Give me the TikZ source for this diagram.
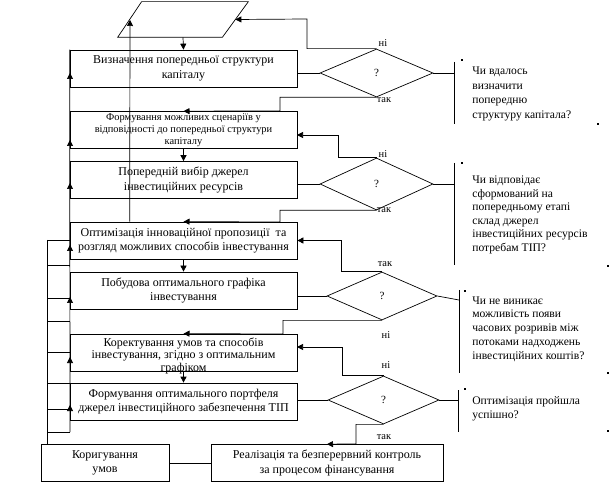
\documentclass[tikz,border=0pt]{standalone}
\usepackage{fontspec}
\setmainfont{Liberation Serif}
\usetikzlibrary{arrows.meta,shapes.geometric}
\begin{document}
\begin{tikzpicture}[x=1pt,y=-1pt,line width=0.7pt,
  box/.style={draw,minimum width=227pt,minimum height=37pt,inner sep=1pt,align=center,font=\fontsize{12}{14.5}\selectfont},
  boxtext/.style={align=center,font=\fontsize{12}{12.5}\selectfont,inner sep=0pt},
  dia/.style={draw,diamond,inner sep=0pt,font=\fontsize{11}{13}\selectfont},
  ann/.style={anchor=west,align=left,inner sep=0pt,font=\fontsize{11.6}{14.5}\selectfont},
  lbl/.style={inner sep=0pt,font=\fontsize{10.5}{12}\selectfont},
  arr/.style={-{Triangle[length=6pt,width=6pt]}},
  dot/.style={fill,inner sep=0pt,minimum size=1.2pt}]
\useasboundingbox (0,0) rectangle (613,494);
% start parallelogram
\node[minimum width=130pt,minimum height=35pt,inner sep=0pt] (par) at (183,19.5) {};
\draw (par.south west) -- ([xshift=-26pt]par.south east) -- (par.north east) -- ([xshift=24pt]par.north west) -- cycle;
\coordinate (parR) at ([xshift=-13pt]par.east);
% boxes
\node[box] (b1) at (183.5,68.5) {Визначення попередньої структури\\капіталу};
\node[box,font=\fontsize{10.4}{12}\selectfont] (b2) at (183.5,130) {Формування можливих сценаріїв у\\відповідності до попередньої структури\\капіталу};
\node[box] (b3) at (183.5,180) {Попередній вибір джерел\\інвестиційних ресурсів};
\node[box] (b4) at (183.5,240.5) {Оптимізація інноваційної пропозиції\ \ та\\розгляд можливих способів інвестування};
\node[box] (b5) at (183.5,290.5) {Побудова оптимального графіка\\інвестування};
\node[box,label={[boxtext,yshift=-3pt]center:{Коректування умов та способів\\інвестування, згідно з оптимальним\\графіком}}] (b6) at (183.5,352.5) {};
\node[box] (b7) at (183.5,401.5) {Формування оптимального портфеля\\джерел інвестиційного забезпечення ТІП};
\node[box,minimum width=128pt] (k) at (105,463) {Коригування\\умов};
\node[box,minimum width=232pt] (r) at (327,463) {Реалізація та безперервний контроль\\за процесом фінансування};
% decisions
\node[dia,minimum width=113pt,minimum height=48pt] (d1) at (376.5,73) {?};
\node[dia,minimum width=113pt,minimum height=52pt] (d2) at (376.5,184) {?};
\node[dia,minimum width=110pt,minimum height=48pt] (d3) at (382,296) {?};
\node[dia,minimum width=111pt,minimum height=48pt] (d4) at (383.5,400) {?};
% annotation brackets
\coordinate (a1t) at (454,62);  \coordinate (a1b) at (454,124);
\coordinate (a2t) at (454,163); \coordinate (a2b) at (454,265);
\coordinate (a3t) at (459,290); \coordinate (a3b) at (459,373);
\coordinate (a4t) at (458,390); \coordinate (a4b) at (458,432);
\draw (a1t) -- (a1b); \draw (a2t) -- (a2b); \draw (a3t) -- (a3b); \draw (a4t) -- (a4b);
\draw (d1.east) -- (d1.east -| a1t);
\draw (d2.east) -- (d2.east -| a2t);
\draw (d3.east) -- (459,300);
\draw (d4.east) -- (d4.east -| a4t);
\node[ann] (t1) at (472,94) {Чи вдалось\\визначити\\попередню\\структуру капітала?};
\node[ann,font=\fontsize{11.6}{13.5}\selectfont] (t2) at (472,215) {Чи відповідає\\сформований на\\попередньому етапі\\склад джерел\\інвестиційних ресурсів\\потребам ТІП?};
\node[ann,font=\fontsize{11.6}{13.8}\selectfont] (t3) at (472,329) {Чи не виникає\\можливість появи\\часових розривів між\\потоками надходжень\\інвестиційних коштів?};
\node[ann] (t4) at (472,409) {Оптимізація пройшла\\успішно?};
\foreach \p in {(462,60),(598,124),(462,163),(608,266),(465,291),(608,373),(465,389),(608,431)} \node[dot] at \p {};
% yes / no labels
\node[lbl] at (383,43) {ні};
\node[lbl] at (384,100) {так};
\node[lbl] at (383,154) {ні};
\node[lbl] at (384,210) {так};
\node[lbl] at (385,264) {так};
\node[lbl] at (386,335) {ні};
\node[lbl] at (386,365) {ні};
\node[lbl] at (384,437) {так};
% connectors
\draw[arr] (par.south) -- (b1.north);
\draw (d1.west) -- (d1.west -| b1.east);
\draw[arr] (d1.north) -| (307,19) -- (parR);
\draw[arr] (d1.south) -| (280,111) -- (b2.north);
\draw[arr] (b2.south) -- (b3.north);
\draw[arr] (d2.north) -| (338,135) -- (297,135);
\draw (d2.west) -- (d2.west -| b3.east);
\draw[arr] (d2.south) -| (280,222) -- (b4.north);
\draw[arr] ([xshift=60pt]b4.north west) -- (130,20);
\draw[arr] (b4.south) -- (b5.north);
\draw[arr] (d3.north) -| (341,240.5) -- (b4.east);
\draw (d3.west) -- (d3.west -| b5.east);
\draw[arr] (d3.south) -| (283,334) -- (b6.north);
\draw[arr] (d4.north) -| (342,347) -- (297,347);
\draw[arr] (b6.south) -- (b7.north);
\draw (d4.west) -- (d4.west -| b7.east);
\draw[arr] (d4.south) -| (356,444) -- (r.north);
\draw (k.east) -- (r.west);
% left return rails
\draw (b1.north west) -- (70,432);
\draw (47,240) -- (47,444);
\foreach \yy in {240,265,298,321,352,383,409,432} \draw (47,\yy) -- (70,\yy);
\foreach \yy in {73,140,183,245,297,357,405} \draw[arr] (70,\yy+7) -- (70,\yy);
\end{tikzpicture}
\end{document}
